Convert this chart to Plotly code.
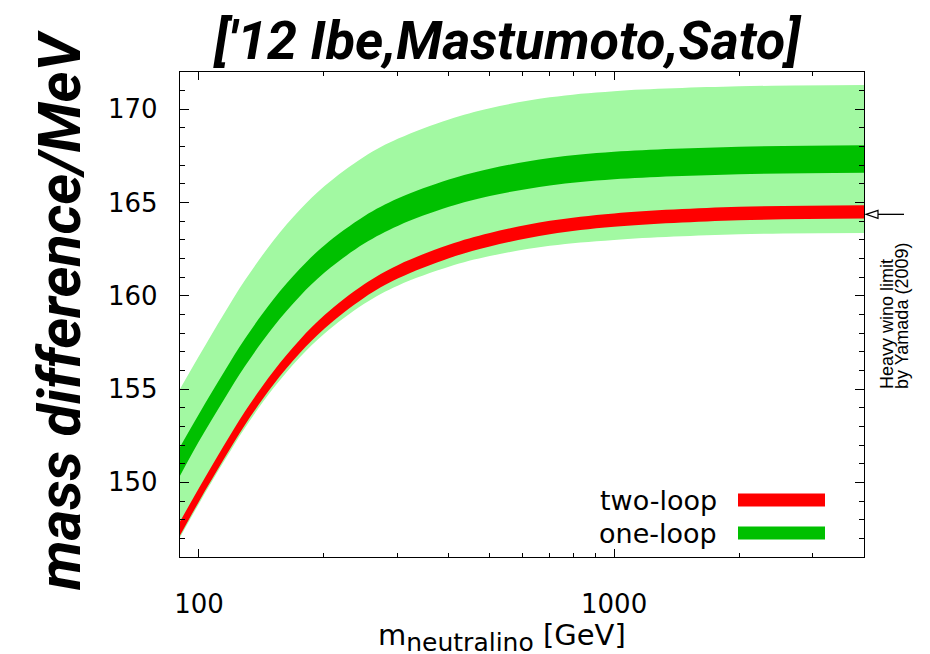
import numpy as np
import plotly.graph_objects as go

# neutralino mass [GeV]
m_chi = [90, 100, 115, 129, 151, 175, 201, 250, 302, 400, 502, 700, 1000, 2000, 4000]

# one-loop uncertainty band (light green)
one_loop_wide_hi = [155.0, 156.77, 159.05, 160.83, 162.95, 164.61, 165.9, 167.46, 168.43,
                    169.46, 170.06, 170.64, 170.97, 171.23, 171.3]
one_loop_wide_lo = [147.05, 148.86, 151.14, 152.92, 155.04, 156.71, 158.0, 159.58, 160.56,
                    161.56, 162.13, 162.68, 163.0, 163.3, 163.37]

# one-loop central band (dark green)
one_loop_hi = [151.9, 153.67, 155.93, 157.7, 159.8, 161.45, 162.73, 164.27, 165.23,
               166.24, 166.82, 167.39, 167.72, 167.99, 168.07]
one_loop_lo = [150.35, 152.2, 154.46, 156.23, 158.33, 159.98, 161.26, 162.8, 163.76,
               164.77, 165.35, 165.92, 166.25, 166.52, 166.6]

# two-loop band (red)
two_loop_hi = [147.9, 149.7, 152.0, 153.8, 155.95, 157.65, 158.98, 160.62, 161.66,
               162.74, 163.37, 164.02, 164.42, 164.77, 164.86]
two_loop_lo = [147.15, 148.98, 151.28, 153.08, 155.23, 156.93, 158.26, 159.9, 160.94,
               162.02, 162.65, 163.3, 163.7, 164.05, 164.14]

# heavy wino limit (Yamada 2009)
wino_limit = 164.37

x_range = [90, 4000]
y_range = [146, 172]
y_ticks = [150, 155, 160, 165, 170]
x_ticks = [100, 1000]
x_ticktext = ["100", "1000"]
x_minor = [200, 300, 400, 500, 600, 700, 800, 900, 2000, 3000]

LIGHT_GREEN = "#a2f9a2"
DARK_GREEN = "#00c000"
RED = "#ff0000"

fig = go.Figure()


def add_band(lo, hi, color):
    fig.add_trace(go.Scatter(x=m_chi, y=lo, mode="lines", line=dict(width=0, color=color, shape="spline"),
                             showlegend=False, hoverinfo="skip"))
    fig.add_trace(go.Scatter(x=m_chi, y=hi, mode="lines", line=dict(width=0, color=color, shape="spline"),
                             fill="tonexty", fillcolor=color, showlegend=False, hoverinfo="skip"))


add_band(one_loop_wide_lo, one_loop_wide_hi, LIGHT_GREEN)
add_band(one_loop_lo, one_loop_hi, DARK_GREEN)
add_band(two_loop_lo, two_loop_hi, RED)

SANS = "DejaVu Sans, Liberation Sans, Arial, sans-serif"
tick_font = dict(family=SANS, size=26, color="black")
title_font = "Roboto, DejaVu Sans, sans-serif"

fig.update_layout(
    width=930, height=654,
    margin=dict(l=180, r=66, t=72, b=97),
    paper_bgcolor="white", plot_bgcolor="white",
    showlegend=False,
    xaxis=dict(
        type="log", range=[np.log10(x_range[0]), np.log10(x_range[1])],
        showgrid=False, zeroline=False,
        showline=True, linecolor="black", linewidth=1.3, mirror="ticks",
        ticks="inside", ticklen=8, tickwidth=1.2, tickcolor="black",
        tickmode="array", tickvals=x_ticks, ticktext=x_ticktext,
        tickfont=tick_font, ticklabelstandoff=24,
        minor=dict(tickmode="array", tickvals=x_minor, ticks="inside", ticklen=4,
                   tickwidth=1.2, tickcolor="black", showgrid=False),
    ),
    yaxis=dict(
        range=y_range, showgrid=False, zeroline=False,
        showline=True, linecolor="black", linewidth=1.3, mirror="ticks",
        ticks="inside", ticklen=9, tickwidth=1.2, tickcolor="black",
        tickmode="array", tickvals=y_ticks,
        tickfont=tick_font, ticklabelstandoff=16,
        minor=dict(dtick=1, ticks="inside", ticklen=4.5, tickwidth=1.2,
                   tickcolor="black", showgrid=False),
    ),
)


def px_x(px):
    return (px - 180) / 684


def px_y(py):
    return (557 - py) / 485


fig.add_annotation(text="<i><b>['12 Ibe,Mastumoto,Sato]</b></i>", xref="paper", yref="paper",
                   x=px_x(507), y=px_y(40), xanchor="center", yanchor="middle", showarrow=False,
                   font=dict(family=title_font, size=54, color="black"))
fig.add_annotation(text="<i><b>mass difference/MeV</b></i>", xref="paper", yref="paper",
                   x=px_x(59), y=px_y(310), xanchor="center", yanchor="middle", showarrow=False,
                   textangle=-90, font=dict(family=title_font, size=59, color="black"))
fig.add_annotation(text="m<sub><span style='font-size:25px'>neutralino</span></sub> [GeV]",
                   xref="paper", yref="paper",
                   x=px_x(502), y=px_y(637), xanchor="center", yanchor="middle", showarrow=False,
                   font=dict(family=SANS, size=29, color="black"))

# vertical note next to the arrow
for line, xpx in (("Heavy wino limit", 887), ("by Yamada (2009)", 902)):
    fig.add_annotation(text=line, xref="paper", yref="paper",
                       x=px_x(xpx), y=px_y(391), xanchor="center", yanchor="bottom", showarrow=False,
                       textangle=-90, font=dict(family="Liberation Sans, Arial, sans-serif",
                                                size=18, color="black"))

# legend
legend_items = [("two-loop", RED, 500), ("one-loop", DARK_GREEN, 533)]
for label, color, ypx in legend_items:
    fig.add_annotation(text=label, xref="paper", yref="paper", x=px_x(719), y=px_y(ypx),
                       xanchor="right", yanchor="middle", showarrow=False,
                       font=dict(family=SANS, size=27, color="black"))
    fig.add_shape(type="line", xref="paper", yref="paper", x0=px_x(738), x1=px_x(825),
                  y0=px_y(ypx), y1=px_y(ypx), line=dict(color=color, width=13))

# arrow marking the heavy wino limit
fig.add_shape(type="line", xref="paper", yref="y", x0=px_x(878), x1=px_x(904),
              y0=wino_limit, y1=wino_limit, line=dict(color="black", width=1.3))
head_half = 4 / 18.65
fig.add_shape(type="path", xref="paper", yref="y",
              path=f"M {px_x(866)} {wino_limit} L {px_x(878)} {wino_limit + head_half} "
                   f"L {px_x(878)} {wino_limit - head_half} Z",
              line=dict(color="black", width=1.2), fillcolor="white")

fig.write_html("out.html")
